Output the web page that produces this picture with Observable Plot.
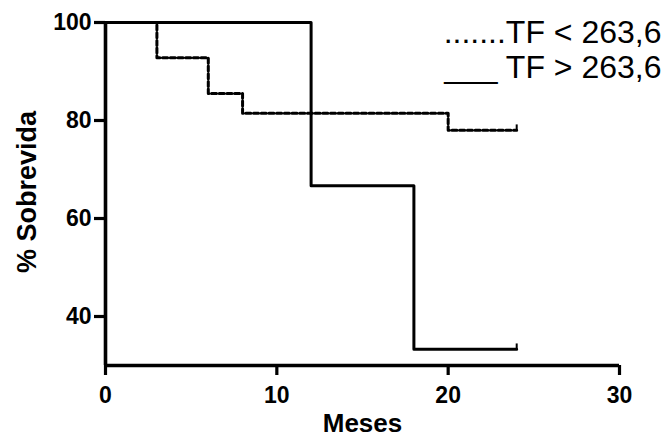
<!DOCTYPE html>
<html>
<head>
<meta charset="utf-8">
<script src="https://cdn.jsdelivr.net/npm/d3@7"></script>
<script src="https://cdn.jsdelivr.net/npm/@observablehq/plot@0.6"></script>
<style>
  html, body { margin: 0; padding: 0; background: white; }
</style>
</head>
<body>
<div id="chart"></div>
<script>
// Data
const lowMonths = [0, 3, 6, 8, 20, 24];
const lowSurvival = [100, 92.8, 85.5, 81.5, 78.0, 78.0];
const highMonths = [0, 12, 18, 24];
const highSurvival = [100, 66.7, 33.3, 33.3];
const censorMonths = [24, 24];
const censorSurvival = [78.0, 33.3];
const xTicks = [0, 10, 20, 30];
const yTicks = [40, 60, 80, 100];
const legendLines = [".......TF < 263,6", "___ TF > 263,6"];
const xLabel = "Meses";
const yLabel = "% Sobrevida";

const low = lowMonths.map((m, i) => ({x: m, y: lowSurvival[i]}));
const high = highMonths.map((m, i) => ({x: m, y: highSurvival[i]}));
const censor = censorMonths.map((m, i) => ({x: m, y: censorSurvival[i]}));

const font = "'Liberation Sans', Arial, Helvetica, sans-serif";

const chart = Plot.plot({
  width: 672,
  height: 442,
  marginLeft: 105,
  marginRight: 53,
  marginTop: 22,
  marginBottom: 77,
  style: {fontFamily: font, fontSize: "23px", fontWeight: "bold", background: "white", color: "black", overflow: "visible"},
  x: {domain: [0, 30]},
  y: {domain: [30, 100]},
  marks: [
    Plot.axisX({ticks: xTicks, tickSize: 10, tickPadding: 11, strokeWidth: 3.2, fontSize: 23, fontWeight: "bold", label: null, tickFormat: d => String(d)}),
    Plot.axisY({ticks: yTicks, tickSize: 11, tickPadding: 3, strokeWidth: 3.2, fontSize: 23, fontWeight: "bold", label: null, tickFormat: d => String(d)}),
    Plot.ruleX([0], {strokeWidth: 3.6}),
    Plot.ruleY([30], {strokeWidth: 3.6}),
    Plot.line(low, {x: "x", y: "y", curve: "step-after", stroke: "black", strokeWidth: 3, strokeDasharray: "5,2.7"}),
    Plot.line(high, {x: "x", y: "y", curve: "step-after", stroke: "black", strokeWidth: 3}),
    Plot.ruleX(censor, {x: "x", y1: "y", y2: d => d.y + 1.1, stroke: "black", strokeWidth: 2}),
    Plot.text([xLabel], {frameAnchor: "bottom", lineAnchor: "bottom", dy: 66, fontSize: 26, fontWeight: "bold", text: d => d}),
    Plot.text([yLabel], {frameAnchor: "left", textAnchor: "middle", rotate: -90, lineAnchor: "bottom", dx: -70, dy: -2, fontSize: 27, fontWeight: "bold", text: d => d}),
    Plot.text([legendLines[0]], {frameAnchor: "top-right", textAnchor: "end", lineAnchor: "top", dx: 42, dy: -2, fontSize: 32, fontWeight: "normal", text: d => d}),
    Plot.text([legendLines[1]], {frameAnchor: "top-right", textAnchor: "end", lineAnchor: "top", dx: 42, dy: 33, fontSize: 32, fontWeight: "normal", text: d => d})
  ]
});
document.getElementById("chart").appendChild(chart);
</script>
</body>
</html>
